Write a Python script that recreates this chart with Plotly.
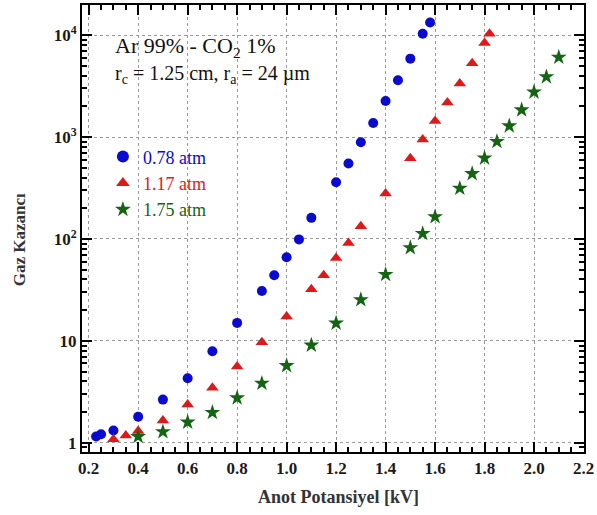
import plotly.graph_objects as go

# Data
x_078 = [0.23, 0.25, 0.30, 0.40, 0.50, 0.60, 0.70, 0.80, 0.90, 0.95, 1.00, 1.05, 1.10,
         1.20, 1.25, 1.30, 1.35, 1.40, 1.45, 1.50, 1.55, 1.58]
y_078 = [1.15, 1.21, 1.32, 1.8, 2.65, 4.3, 7.9, 15, 30.8, 44, 66, 99, 161,
         360, 551, 889, 1376, 2256, 3615, 5883, 10330, 13330]

x_117 = [0.30, 0.35, 0.40, 0.50, 0.60, 0.70, 0.80, 0.90, 1.00, 1.10, 1.15, 1.20, 1.25,
         1.30, 1.40, 1.50, 1.55, 1.60, 1.65, 1.70, 1.75, 1.80, 1.82]
y_117 = [1.08, 1.18, 1.30, 1.65, 2.37, 3.47, 5.6, 9.7, 17.3, 32, 44, 65, 91,
         133, 280, 621, 944, 1439, 2188, 3350, 5306, 8375, 10320]

x_175 = [0.40, 0.50, 0.60, 0.70, 0.80, 0.90, 1.00, 1.10, 1.20, 1.30, 1.40, 1.50, 1.55,
         1.60, 1.70, 1.75, 1.80, 1.85, 1.90, 1.95, 2.00, 2.05, 2.10]
y_175 = [1.15, 1.28, 1.59, 1.98, 2.75, 3.83, 5.7, 9.06, 14.9, 25.3, 44.7, 82, 113,
         165, 314, 437, 621, 903, 1285, 1845, 2760, 3900, 6070]

x_ticks = [0.2, 0.4, 0.6, 0.8, 1.0, 1.2, 1.4, 1.6, 1.8, 2.0, 2.2]
x_ticklabels = ["0.2", "0.4", "0.6", "0.8", "1.0", "1.2", "1.4", "1.6", "1.8", "2.0", "2.2"]
y_ticks = [1, 10, 100, 1000, 10000]
y_ticklabels = ["1", "10", "10<sup>2</sup>", "10<sup>3</sup>", "10<sup>4</sup>"]

BLUE = "#0a0ad0"
RED = "#dd1a1a"
GREEN = "#146414"
SERIF = "Liberation Serif, Times New Roman, serif"

fig = go.Figure()
fig.add_trace(go.Scatter(x=x_078, y=y_078, mode="markers",
                         name=f"<span style='color:{BLUE}'>0.78 atm</span>",
                         marker=dict(symbol="circle", size=10, color=BLUE)))
fig.add_trace(go.Scatter(x=x_117, y=y_117, mode="markers",
                         name=f"<span style='color:{RED}'>1.17 atm</span>",
                         marker=dict(symbol="triangle-up", size=11, color=RED)))
fig.add_trace(go.Scatter(x=x_175, y=y_175, mode="markers",
                         name=f"<span style='color:{GREEN}'>1.75 atm</span>",
                         marker=dict(symbol="star", size=12, color=GREEN)))

minor_y = [m * 10 ** d for d in range(-1, 5) for m in range(2, 10)]

axis_common = dict(
    showline=True, linewidth=2, linecolor="black", mirror="allticks",
    ticks="inside", ticklen=10, tickwidth=1.5, tickcolor="black",
    showgrid=True, gridcolor="#9a9a9a", griddash="dot", gridwidth=1,
    zeroline=False,
    tickfont=dict(family=SERIF, size=17, color="#1a1a1a", weight="bold"),
)

fig.update_xaxes(
    range=[0.173, 2.202], tickmode="array", tickvals=x_ticks, ticktext=x_ticklabels,
    minor=dict(ticks="inside", ticklen=5, dtick=0.05, tick0=0.2, tickcolor="black", showgrid=False),
    **axis_common,
)
fig.update_yaxes(
    type="log", range=[-0.091, 4.296], tickmode="array", tickvals=y_ticks, ticktext=y_ticklabels,
    minor=dict(ticks="inside", ticklen=5, tickmode="array", tickvals=minor_y,
               tickcolor="black", showgrid=False),
    **axis_common,
)

# axis titles
fig.add_annotation(xref="paper", yref="paper", x=(340 - 82) / 504, y=(452 - 497) / 449,
                   xanchor="center", yanchor="middle", text="Anot Potansiyel [kV]", showarrow=False,
                   font=dict(family=SERIF, size=18, color="#333333", weight="bold"))
fig.add_annotation(xref="paper", yref="paper", x=(20 - 82) / 504, y=(452 - 239) / 449,
                   xanchor="center", yanchor="middle", text="Gaz Kazancı", showarrow=False,
                   textangle=-90,
                   font=dict(family=SERIF, size=17, color="#333333", weight="bold"))

fig.add_annotation(xref="paper", yref="paper", x=(113 - 82) / 504, y=(452 - 45) / 449,
                   xanchor="left", yanchor="middle",
                   text="Ar 99% - CO<sub>2</sub> 1%", showarrow=False,
                   font=dict(family=SERIF, size=22, color="#111111"))
fig.add_annotation(xref="paper", yref="paper", x=(113 - 82) / 504, y=(452 - 73) / 449,
                   xanchor="left", yanchor="middle",
                   text="r<sub>c</sub> = 1.25 cm, r<sub>a</sub> = 24 µm", showarrow=False,
                   font=dict(family=SERIF, size=20, color="#111111"))

fig.update_layout(
    width=597, height=515,
    margin=dict(l=82, r=11, t=3, b=63),
    plot_bgcolor="white", paper_bgcolor="white",
    showlegend=True,
    legend=dict(x=(103 - 82) / 504, y=(452 - 137) / 449, xanchor="left", yanchor="top",
                bgcolor="rgba(0,0,0,0)",
                font=dict(family=SERIF, size=18), tracegroupgap=0, itemsizing="constant"),
)

fig.write_html("out.html")
